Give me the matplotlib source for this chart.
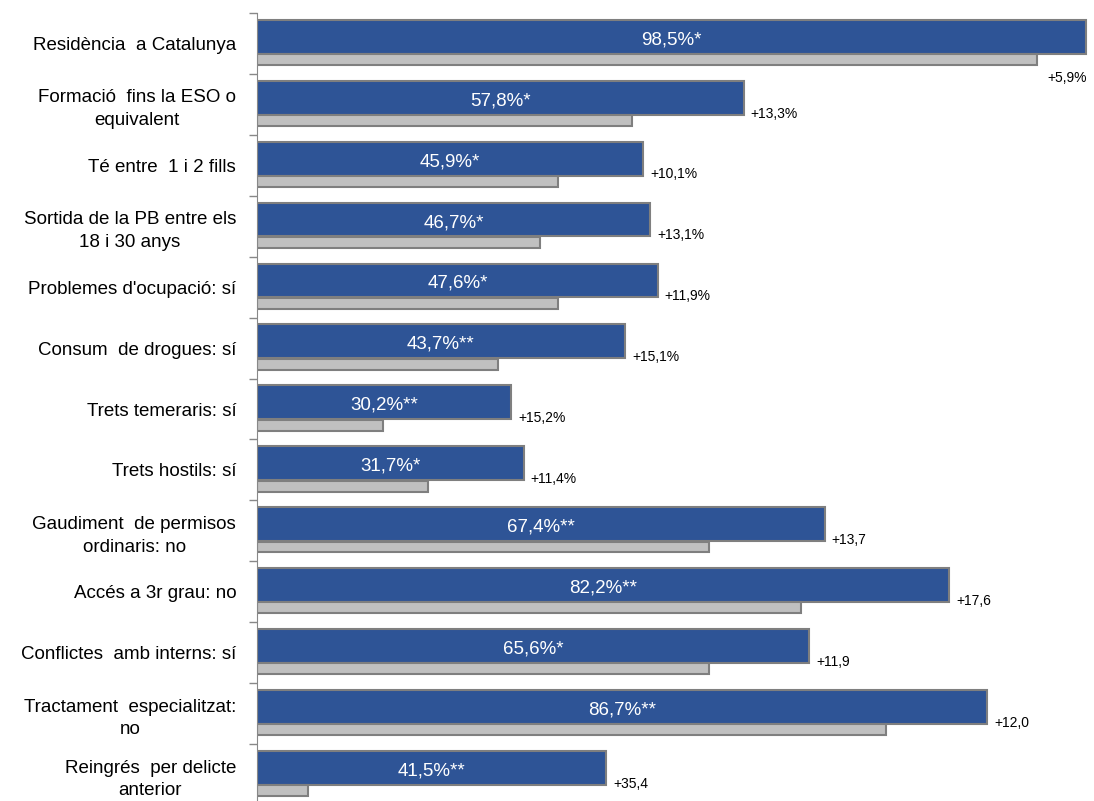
import matplotlib.pyplot as plt

plt.rcParams['font.family'] = ['Liberation Sans', 'DejaVu Sans']

categories = ["Residència  a Catalunya",
              "Formació  fins la ESO o\nequivalent",
              "Té entre  1 i 2 fills",
              "Sortida de la PB entre els\n18 i 30 anys",
              "Problemes d'ocupació: sí",
              "Consum  de drogues: sí",
              "Trets temeraris: sí",
              "Trets hostils: sí",
              "Gaudiment  de permisos\nordinaris: no",
              "Accés a 3r grau: no",
              "Conflictes  amb interns: sí",
              "Tractament  especialitzat:\nno",
              "Reingrés  per delicte\nanterior"]
values = [98.5, 57.8, 45.9, 46.7, 47.6, 43.7, 30.2, 31.7, 67.4, 82.2, 65.6, 86.7, 41.5]
stars = ["*", "*", "*", "*", "*", "**", "**", "*", "**", "**", "*", "**", "**"]
diffs = [5.9, 13.3, 10.1, 13.1, 11.9, 15.1, 15.2, 11.4, 13.7, 17.6, 11.9, 12.0, 35.4]
diff_units = ["%"] * 8 + [""] * 5

base = [v - d for v, d in zip(values, diffs)]
n = len(categories)
pos = list(range(n))

fig = plt.figure(figsize=(10.94, 8.01), dpi=100)
ax = fig.add_axes([257 / 1094, -4 / 801, 842 / 1094, 792 / 801])

blue_y = [i + 0.39 for i in pos]
gray_y = [i + 0.765 for i in pos]
ax.barh(blue_y, values, height=0.555, color='#2E5496', edgecolor='#7F7F7F', linewidth=1.5)
ax.barh(gray_y, base, height=0.18, color='#C0C0C0', edgecolor='#7F7F7F', linewidth=1.5)

for i in pos:
    lab = f"{values[i]:.1f}%".replace('.', ',') + stars[i]
    ax.text(values[i] / 2, blue_y[i] + 0.05, lab, color='white', fontsize=13.5,
            ha='center', va='center')
    dlab = "+" + f"{diffs[i]:.1f}".replace('.', ',') + diff_units[i]
    if i == 0:
        ax.annotate(dlab, (base[i], i + 0.855), xytext=(8, -9), textcoords='offset points',
                    fontsize=10, ha='left', va='center')
    else:
        ax.annotate(dlab, (values[i], i + 0.65), xytext=(5, 0), textcoords='offset points',
                    fontsize=10, ha='left', va='center')

ax.set_xlim(0, 100)
ax.set_ylim(n, 0)
ax.set_xticks([])
ax.set_yticks([i + 0.5 for i in pos], categories, fontsize=13.5)
for t in ax.get_yticklabels():
    t.set_multialignment('center')
    t.set_linespacing(1.45)
ax.set_yticks(list(range(n + 1)), minor=True)
ax.tick_params(axis='y', which='major', length=0, pad=15)
ax.tick_params(axis='y', which='minor', length=6, width=1, color='#888888', direction='out')

for s in ['top', 'right', 'bottom']:
    ax.spines[s].set_visible(False)
ax.spines['left'].set_color('#888888')

fig.savefig('out.png', dpi=100)
